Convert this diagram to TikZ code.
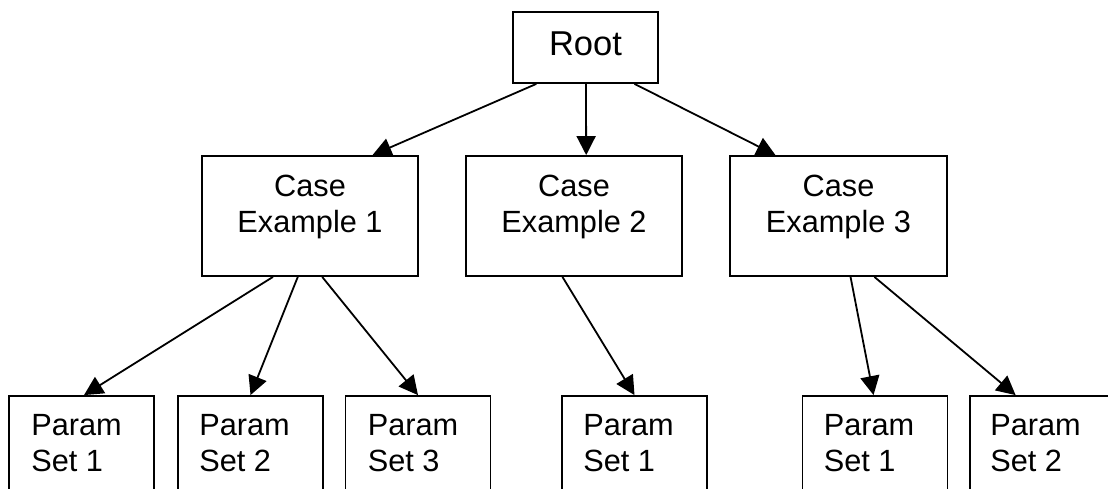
\documentclass[tikz,border=0pt]{standalone}
\usepackage{fontspec}
\setmainfont{Liberation Sans}
\usetikzlibrary{arrows.meta,calc}
\begin{document}
\begin{tikzpicture}[x=1pt,y=-1pt,
  box/.style={draw=black,line width=1.8pt,inner sep=0pt,minimum width=145pt,minimum height=120pt},
  rootbox/.style={box,minimum width=145pt,minimum height=71pt,font=\fontsize{34.5}{40}\selectfont,text depth=7pt},
  casebox/.style={box,minimum width=216pt},
  casetext/.style={inner sep=0pt,align=center,font=\fontsize{30.7}{36}\selectfont},
  paramtext/.style={inner sep=0pt,align=left,anchor=west,font=\fontsize{30.7}{36}\selectfont},
  conn/.style={line width=1.8pt,-{Triangle[length=19pt,width=19pt]}}]
\useasboundingbox (0,0) rectangle (1108,488);
\clip (0,0) rectangle (1108,488);
% boxes
\node[rootbox] (root) at (585.5,47.5) {Root};
\node[casebox] (c1) at (310,216) {};
\node[casebox] (c2) at (574,216) {};
\node[casebox,minimum width=217pt] (c3) at (838.5,216) {};
\node[box] (p1) at (81.5,456) {};
\node[box] (p2) at (250.5,456) {};
\node[box] (p3) at (418,456) {};
\node[box] (p4) at (634.5,456) {};
\node[box] (p5) at (875,456) {};
\node[box] (p6) at (1042.5,456) {};
% texts
\node[casetext] (c1t) at ($(c1.north)+(0,51.6)$) {Case\\Example 1};
\node[casetext] (c2t) at ($(c2.north)+(0,51.6)$) {Case\\Example 2};
\node[casetext] (c3t) at ($(c3.north)+(0,51.6)$) {Case\\Example 3};
\node[paramtext] (p1t) at ($(p1.north west)+(23,48)$) {Param\\Set 1};
\node[paramtext] (p2t) at ($(p2.north west)+(22,48)$) {Param\\Set 2};
\node[paramtext] (p3t) at ($(p3.north west)+(23,48)$) {Param\\Set 3};
\node[paramtext] (p4t) at ($(p4.north west)+(22,48)$) {Param\\Set 1};
\node[paramtext] (p5t) at ($(p5.north west)+(22,48)$) {Param\\Set 1};
\node[paramtext] (p6t) at ($(p6.north west)+(21,48)$) {Param\\Set 2};
% connectors
\draw[conn] ($(root.south west)!0.165!(root.south east)$) -- ($(c1.north west)!0.787!(c1.north east)$);
\draw[conn] ($(root.south west)!0.503!(root.south east)$) -- ($(c2.north west)!0.556!(c2.north east)$);
\draw[conn] ($(root.south west)!0.834!(root.south east)$) -- ($(c3.north west)!0.212!(c3.north east)$);
\draw[conn] ($(c1.south west)!0.33!(c1.south east)$) -- ($(p1.north west)!0.517!(p1.north east)$);
\draw[conn] ($(c1.south west)!0.444!(c1.south east)$) -- (p2.north);
\draw[conn] ($(c1.south west)!0.556!(c1.south east)$) -- (p3.north);
\draw[conn] ($(c2.south west)!0.447!(c2.south east)$) -- (p4.north);
\draw[conn] ($(c3.south west)!0.555!(c3.south east)$) -- ($(p5.north west)!0.49!(p5.north east)$);
\draw[conn] ($(c3.south west)!0.664!(c3.south east)$) -- ($(p6.north west)!0.317!(p6.north east)$);
\end{tikzpicture}
\end{document}
